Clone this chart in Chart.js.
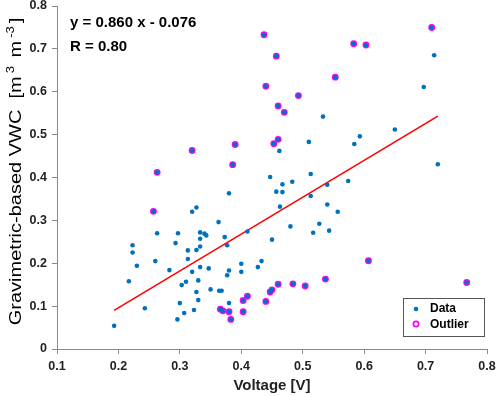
<!DOCTYPE html>
<html>
<head>
<meta charset="utf-8">
<title>VWC vs voltage</title>
<script src="https://cdn.jsdelivr.net/npm/chart.js@4.4.1/dist/chart.umd.min.js"></script>
<style>
  html, body { margin: 0; padding: 0; background: #fff; }
  #wrap { width: 498px; height: 396px; }
</style>
</head>
<body>
<div id="wrap"><canvas id="chart" width="498" height="396"></canvas></div>
<script>
/* ── Data ─────────────────────────────────────────────────────── */

// regular samples (voltage [V], VWC [m3 m-3])
const dataX = [
    0.193, 0.243, 0.217, 0.230, 0.223, 0.223, 0.263, 0.260, 0.283, 0.296,
    0.300, 0.307, 0.303, 0.310, 0.293, 0.297, 0.313, 0.313, 0.320, 0.327,
    0.320, 0.323, 0.330, 0.327, 0.330, 0.327, 0.333, 0.333, 0.333, 0.340,
    0.343, 0.333, 0.347, 0.350, 0.363, 0.364, 0.368, 0.380, 0.373, 0.377,
    0.380, 0.380, 0.377, 0.400, 0.400, 0.410, 0.433, 0.427, 0.450, 0.457,
    0.463, 0.447, 0.462, 0.467, 0.467, 0.483, 0.513, 0.513, 0.540, 0.574,
    0.540, 0.557, 0.480, 0.527, 0.517, 0.543, 0.510, 0.533, 0.584, 0.593,
    0.650, 0.697, 0.714, 0.720,
];
const dataY = [
    0.054, 0.095, 0.158, 0.194, 0.225, 0.242, 0.270, 0.205, 0.184, 0.069,
    0.107, 0.084, 0.149, 0.157, 0.247, 0.270, 0.230, 0.210, 0.320, 0.330,
    0.180, 0.091, 0.114, 0.133, 0.160, 0.231, 0.239, 0.257, 0.272, 0.269,
    0.265, 0.191, 0.188, 0.139, 0.296, 0.136, 0.136, 0.107, 0.261, 0.242,
    0.363, 0.183, 0.172, 0.199, 0.180, 0.274, 0.205, 0.191, 0.255, 0.367,
    0.332, 0.401, 0.462, 0.384, 0.366, 0.390, 0.408, 0.357, 0.383, 0.392,
    0.337, 0.320, 0.286, 0.292, 0.271, 0.276, 0.483, 0.542, 0.478, 0.496,
    0.512, 0.611, 0.685, 0.431,
];

// samples flagged as outliers
const outX = [
    0.437, 0.457, 0.440, 0.460, 0.470, 0.460, 0.453, 0.320, 0.390, 0.386,
    0.263, 0.257, 0.493, 0.553, 0.583, 0.603, 0.710, 0.366, 0.370, 0.380,
    0.383, 0.403, 0.410, 0.403, 0.440, 0.447, 0.450, 0.460, 0.484, 0.504,
    0.537, 0.607, 0.767,
];
const outY = [
    0.733, 0.683, 0.613, 0.567, 0.552, 0.489, 0.479, 0.463, 0.477, 0.430,
    0.412, 0.321, 0.591, 0.634, 0.712, 0.709, 0.750, 0.093, 0.089, 0.087,
    0.069, 0.113, 0.123, 0.087, 0.111, 0.133, 0.138, 0.151, 0.152, 0.147,
    0.163, 0.206, 0.155,
];

// linear fit endpoints (y = 0.860 x - 0.076 over the regular samples)
const fitX = [0.193, 0.720];
const fitY = [0.090, 0.543];

const xTicks = [0.1, 0.2, 0.3, 0.4, 0.5, 0.6, 0.7, 0.8];
const yTicks = [0, 0.1, 0.2, 0.3, 0.4, 0.5, 0.6, 0.7, 0.8];

const EQ_TEXT = 'y = 0.860 x - 0.076';
const R_TEXT = 'R = 0.80';
const SERIES_LABELS = ['Data', 'Outlier'];

/* ── Style ────────────────────────────────────────────────────── */

const FONT = "'Liberation Sans', Arial, sans-serif";
const BLUE = '#0070c0';
const MAGENTA = '#ff00ff';
const AXIS = '#8a8a8a';

const toPts = (xs, ys) => xs.map((x, i) => ({ x, y: ys[i] }));

/* ── Overlay: equation, y title with superscripts, legend box ── */

const overlay = {
    id: 'overlay',
    afterDraw(chart) {
        const ctx = chart.ctx;
        const area = chart.chartArea;
        ctx.save();

        // fit equation
        ctx.fillStyle = '#000';
        ctx.font = `bold 15px ${FONT}`;
        ctx.textBaseline = 'alphabetic';
        ctx.textAlign = 'left';
        ctx.fillText(EQ_TEXT, area.left + 13, area.top + 21);
        ctx.fillText(R_TEXT, area.left + 13, area.top + 45);

        // y axis title (glyphs a bit narrow, as in the source figure)
        const parts = [
            ['Gravimetric-based VWC  [m', false],
            ['3', true],
            [' m', false],
            ['-3', true],
            [']', false],
        ];
        const big = `20px ${FONT}`, small = `13px ${FONT}`;
        const gap = 3;
        let total = 0;
        for (const [t, sup] of parts) {
            ctx.font = sup ? small : big;
            total += ctx.measureText(t).width + (sup ? gap * 2 : 0);
        }
        ctx.translate(21, (area.top + area.bottom) / 2 - 6);
        ctx.rotate(-Math.PI / 2);
        ctx.scale(1, 0.82);
        let x = -total / 2;
        for (const [t, sup] of parts) {
            ctx.font = sup ? small : big;
            if (sup) x += gap;
            ctx.fillText(t, x, sup ? -9 : 0);
            x += ctx.measureText(t).width + (sup ? gap : 0);
        }
        ctx.setTransform(1, 0, 0, 1, 0, 0);

        // legend
        const bx = area.right - 84, by = area.bottom - 51, bw = 81, bh = 38;
        ctx.fillStyle = '#fff';
        ctx.fillRect(bx, by, bw, bh);
        ctx.strokeStyle = '#555';
        ctx.lineWidth = 1;
        ctx.strokeRect(bx + 0.5, by + 0.5, bw, bh);

        const ds = chart.data.datasets;
        ctx.font = `bold 12px ${FONT}`;
        ctx.textBaseline = 'middle';
        ctx.fillStyle = '#000';
        ctx.fillText(ds[0].label, bx + 27, by + 11);
        ctx.fillText(ds[1].label, bx + 27, by + 27);

        ctx.beginPath();
        ctx.arc(bx + 13, by + 11, ds[0].pointRadius, 0, Math.PI * 2);
        ctx.fillStyle = ds[0].backgroundColor;
        ctx.fill();

        ctx.beginPath();
        ctx.arc(bx + 13, by + 26, ds[1].pointRadius, 0, Math.PI * 2);
        ctx.strokeStyle = ds[1].borderColor;
        ctx.lineWidth = ds[1].borderWidth;
        ctx.stroke();

        ctx.restore();
    }
};

/* ── Chart ────────────────────────────────────────────────────── */

const tickFont = { family: FONT, size: 12.5, weight: 'bold' };

new Chart(document.getElementById('chart'), {
    type: 'scatter',
    data: {
        datasets: [
            {
                label: SERIES_LABELS[0],
                data: toPts(dataX.concat(outX), dataY.concat(outY)),
                backgroundColor: BLUE,
                borderColor: BLUE,
                borderWidth: 0,
                pointRadius: 2.3,
                order: 0,
            },
            {
                label: SERIES_LABELS[1],
                data: toPts(outX, outY),
                backgroundColor: 'rgba(0,0,0,0)',
                borderColor: MAGENTA,
                borderWidth: 1.7,
                pointRadius: 2.6,
                order: 1,
            },
            {
                label: 'Fit',
                type: 'line',
                data: toPts(fitX, fitY),
                borderColor: '#ff0000',
                borderWidth: 1.6,
                pointRadius: 0,
                showLine: true,
                fill: false,
                order: 2,
            },
        ]
    },
    options: {
        responsive: false,
        animation: false,
        layout: { padding: { top: 6, right: 11, left: 0, bottom: 0 } },
        plugins: {
            legend: { display: false },
            tooltip: { enabled: false },
        },
        scales: {
            x: {
                type: 'linear',
                min: xTicks[0], max: xTicks[xTicks.length - 1],
                afterBuildTicks: (s) => { s.ticks = xTicks.map(v => ({ value: v })); },
                afterFit: (s) => { s.height = 47; s.paddingLeft = 0; s.paddingRight = 0; },
                ticks: {
                    font: tickFont, color: '#222', padding: 5, maxRotation: 0,
                    callback: (v) => v.toFixed(1),
                },
                grid: { drawOnChartArea: false, drawTicks: true, tickLength: 5, color: AXIS },
                border: { display: true, color: AXIS, width: 1 },
                title: {
                    display: true, text: 'Voltage [V]', color: '#222',
                    font: { family: FONT, size: 15, weight: 'bold' },
                    padding: { top: 0, bottom: 1 },
                },
            },
            y: {
                type: 'linear',
                min: yTicks[0], max: yTicks[yTicks.length - 1],
                afterBuildTicks: (s) => { s.ticks = yTicks.map(v => ({ value: v })); },
                afterFit: (s) => { s.width = 57; s.paddingTop = 0; s.paddingBottom = 0; },
                ticks: {
                    font: tickFont, color: '#222', padding: 5,
                    callback: (v) => v === 0 ? '0' : v.toFixed(1),
                },
                grid: { drawOnChartArea: false, drawTicks: true, tickLength: 5, color: AXIS },
                border: { display: true, color: AXIS, width: 1 },
            },
        }
    },
    plugins: [overlay]
});
</script>
</body>
</html>
